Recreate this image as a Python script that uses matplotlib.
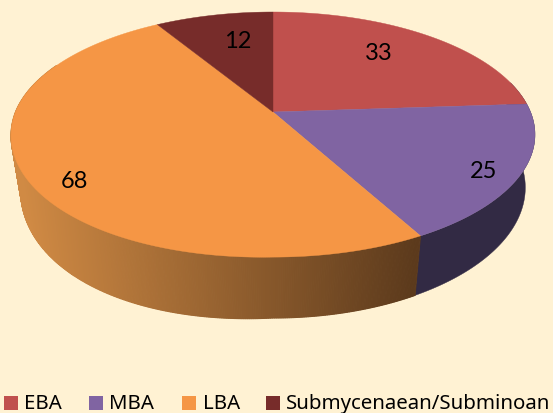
import matplotlib
matplotlib.use('Agg')
import matplotlib.pyplot as plt
import numpy as np

# Data
labels = ['EBA', 'MBA', 'LBA', 'Submycenaean/Subminoan']
values = [33, 25, 68, 12]
colors = ['#C0504D', '#8064A2', '#F59645', '#772C2A']

bg = '#FFF2D3'
plt.rcParams['font.family'] = ['Lato', 'DejaVu Sans']

fig = plt.figure(figsize=(5.53, 4.14), dpi=100, facecolor=bg)
ax = fig.add_axes([0, 0, 1, 1])
ax.set_xlim(0, 553)
ax.set_ylim(414, 0)
ax.axis('off')

# Perspective of the disc, pixels
K = 0.184
CX = 273


def top(th):
    u, v = np.sin(th), np.cos(th)
    w = 1 + K * v
    # front left bulges a little in the reference
    return CX + 257.5 * u / w, 113 - 118.4 * v / w + 6 * np.clip(-u, 0, 1) * np.clip(-v, 0, 1)


def bottom(th):
    u, v = np.sin(th), np.cos(th)
    w = 1 + K * v
    return CX + 248 * u / w, 164.6 - 126 * v / w + 16 * np.clip(-u, 0, 1) * np.clip(-v, 0, 1)


def mix(c1, c2, t):
    return tuple((1 - t) * np.array(c1) + t * np.array(c2))


# Wedge angles
fr = np.cumsum([0] + values) / sum(values) * 2 * np.pi

# Side wall, front half only
side_l = (208 / 255, 138 / 255, 68 / 255)
side_r = (92 / 255, 58 / 255, 28 / 255)
purple_side = (50 / 255, 42 / 255, 68 / 255)

th_p = np.linspace(np.radians(75), fr[2], 150)
xt, yt = top(th_p)
xb, yb = bottom(th_p)
ax.fill(np.r_[xt, xb[::-1]], np.r_[yt, yb[::-1]], color=purple_side, lw=0.3, zorder=2)

th_o = np.linspace(fr[2], np.radians(295), 400)
for a, b in zip(th_o[:-1], th_o[1:]):
    x1, y1 = top(a)
    x2, y2 = top(b)
    x3, y3 = bottom(b)
    x4, y4 = bottom(a)
    c = mix(side_r, side_l, np.clip((415 - x2) / 395, 0, 1))
    ax.fill([x1, x2, x3, x4], [y1, y2, y3, y4], color=c, lw=0.8, zorder=2)

# Top face
for i, c in enumerate(colors):
    th = np.linspace(fr[i], fr[i + 1], 200)
    x, y = top(th)
    ax.fill(np.r_[CX, x], np.r_[113, y], color=c, lw=0.3, zorder=3)

# Value labels
lab_x = [379, 484, 74, 238]
lab_y = [54, 172, 182, 42]
for v, x, y in zip(values, lab_x, lab_y):
    ax.text(x, y, str(v), fontsize=17, color='black', ha='center', va='center', zorder=4)

# Legend
box_x = [4, 89, 182, 266]
txt_x = [24, 109, 203, 286]
for lab, c, bx, tx in zip(labels, colors, box_x, txt_x):
    ax.add_patch(plt.Rectangle((bx, 397), 14, 14, color=c, lw=0))
    ax.text(tx, 404, lab, fontsize=14.7, family=['Noto Sans', 'DejaVu Sans'], color='black', ha='left', va='center')

fig.savefig('out.png', dpi=100, facecolor=bg)
